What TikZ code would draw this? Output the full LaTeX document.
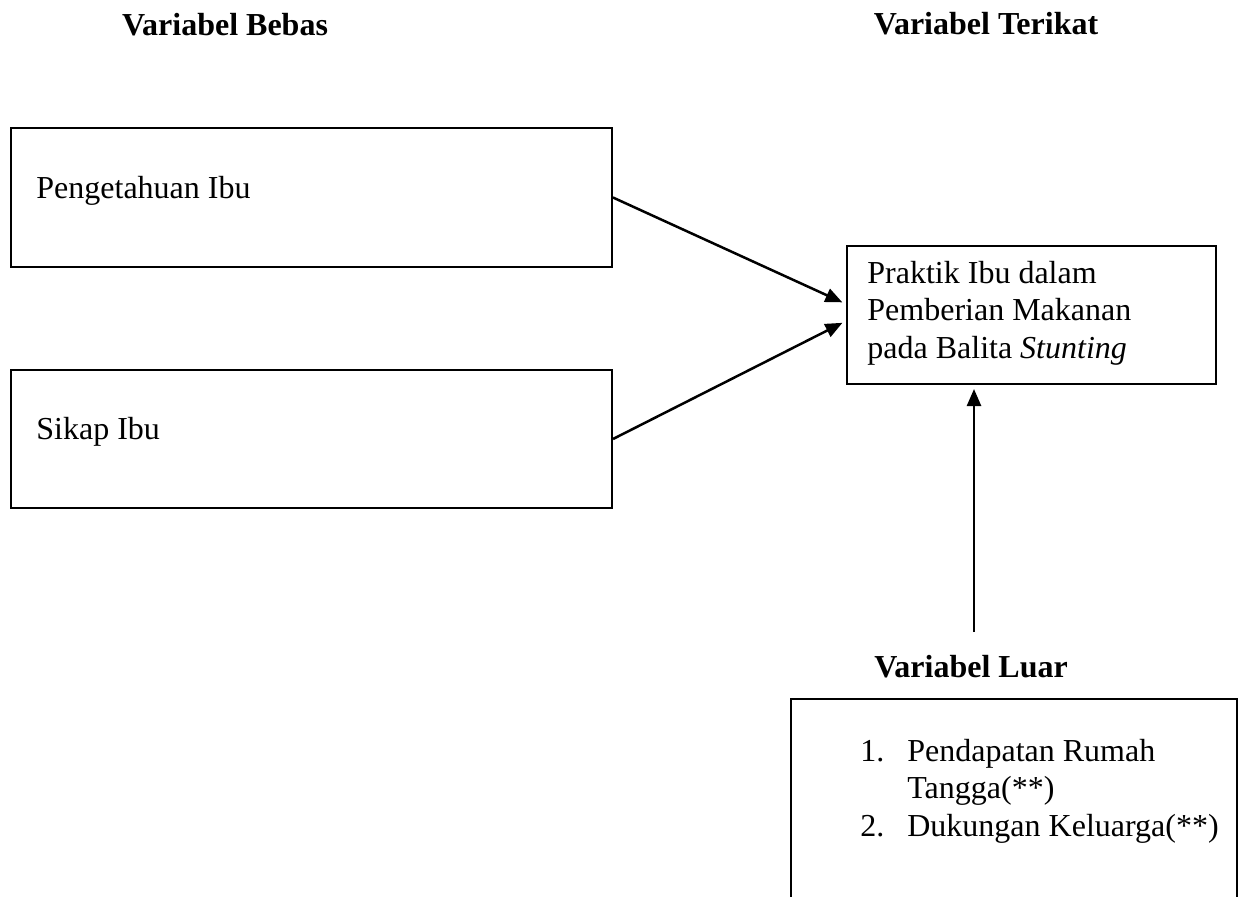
\documentclass[tikz,border=0pt]{standalone}
\usepackage{fontspec}
\setmainfont{Liberation Serif}
\usetikzlibrary{arrows.meta,calc}
\begin{document}
\begin{tikzpicture}[x=0.5pt,y=-0.5pt,
    every node/.style={font=\fontsize{16}{18.75}\selectfont, inner sep=0pt},
    vartitle/.style={font=\fontsize{16}{18.75}\selectfont\bfseries, anchor=base},
    box/.style={draw, line width=1pt, anchor=north west},
    boxtext/.style={anchor=base west, align=left},
    arr/.style={line width=1.25pt, -{Triangle[length=8.5pt,width=7pt]}, shorten >=2pt}]
    \useasboundingbox (0,0) rectangle (1244,896);
    \clip (0,0) rectangle (1244,896);
    \node[vartitle] (bebas) at (225,35) {Variabel Bebas};
    \node[vartitle] (terikat) at (986,34) {Variabel Terikat};
    \node[box, minimum width=300.5pt, minimum height=69.5pt] (know) at (10,127) {};
    \node[boxtext] (knowtxt) at (36,198) {Pengetahuan Ibu};
    \node[box, minimum width=300.5pt, minimum height=69pt] (sikap) at (10,369) {};
    \node[boxtext] (sikaptxt) at (36,439) {Sikap Ibu};
    \node[box, minimum width=184.5pt, minimum height=69pt] (prak) at (846,245) {};
    % base of a multi-line node is its last line
    \node[boxtext] (praktxt) at (867,358) {Praktik Ibu dalam\\Pemberian Makanan\\pada Balita \textit{Stunting}};
    \node[vartitle] (luar) at (971,677) {Variabel Luar};
    \node[box, minimum width=223pt, minimum height=120pt] (luarbox) at (790,698) {};
    \node[anchor=base west] (luartxt) at (860,761) {%
      \begin{tabular}[t]{@{}l@{\hspace{11.5pt}}l@{}}
        1. & Pendapatan Rumah\\
           & Tangga(**)\\
        2. & Dukungan Keluarga(**)
      \end{tabular}};
    \coordinate (tail) at (974,632);
    \draw[arr] (know.east) -- ($(prak.west)+(0,-11)$);
    \draw[arr] (sikap.east) -- ($(prak.west)+(0,6)$);
    \draw[arr] (tail) -- (tail |- prak.south);
\end{tikzpicture}
\end{document}
